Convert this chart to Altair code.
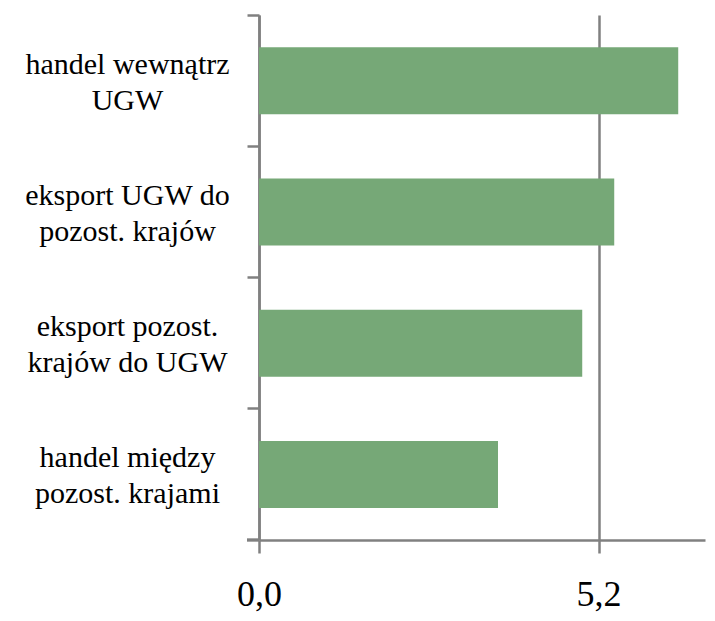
import altair as alt
import pandas as pd

categories = [
    "handel wewnątrz|UGW",
    "eksport UGW do|pozost. krajów",
    "eksport pozost.|krajów do UGW",
    "handel między|pozost. krajami",
]
values = [6.42, 5.44, 4.95, 3.66]
x_ticks = [0.0, 5.2]

df = pd.DataFrame({"cat": categories, "val": values})

GREY = "#808080"
FONT = "Liberation Serif"

bars = alt.Chart(df).mark_bar(color="#76a877", size=67).encode(
    x=alt.X(
        "val:Q",
        scale=alt.Scale(domain=[0, 6.83], nice=False, zero=True),
        axis=alt.Axis(
            values=x_ticks,
            title=None,
            grid=True,
            gridColor=GREY,
            gridWidth=2.5,
            domainColor=GREY,
            domainWidth=2.5,
            tickColor=GREY,
            tickWidth=2.5,
            tickSize=13,
            labelFont=FONT,
            labelFontSize=36,
            labelColor="black",
            labelBaseline="alphabetic",
            labelPadding=52,
            labelExpr="replace(format(datum.value, '.1f'), '.', ',')",
            labelFlush=False,
            labelOverlap=False,
        ),
    ),
    y=alt.Y(
        "cat:N",
        sort=None,
        scale=alt.Scale(paddingInner=0, paddingOuter=0),
        axis=alt.Axis(
            title=None,
            bandPosition=0,
            domainColor=GREY,
            domainWidth=2.5,
            tickColor=GREY,
            tickWidth=2.5,
            tickSize=12,
            labelFont=FONT,
            labelFontSize=30,
            labelColor="black",
            labelAlign="center",
            labelBaseline="middle",
            labelPadding=120,
            labelOffset=-16,
            labelLineHeight=36,
            labelLimit=400,
            labelExpr="split(datum.value, '|')",
        ),
    ),
)

corner = alt.Chart(df).mark_rule(color=GREY, strokeWidth=2.5).encode(
    x=alt.value(-12), x2=alt.value(0), y=alt.value(525)
)

chart = alt.layer(bars, corner).properties(
    width=446,
    height=525,
    autosize=alt.AutoSizeParams(type="none"),
    padding={"left": 251, "top": 7, "right": 2, "bottom": 72},
).configure_view(stroke=None)

chart.save("out.html", embed_options={"renderer": "svg", "actions": False})
